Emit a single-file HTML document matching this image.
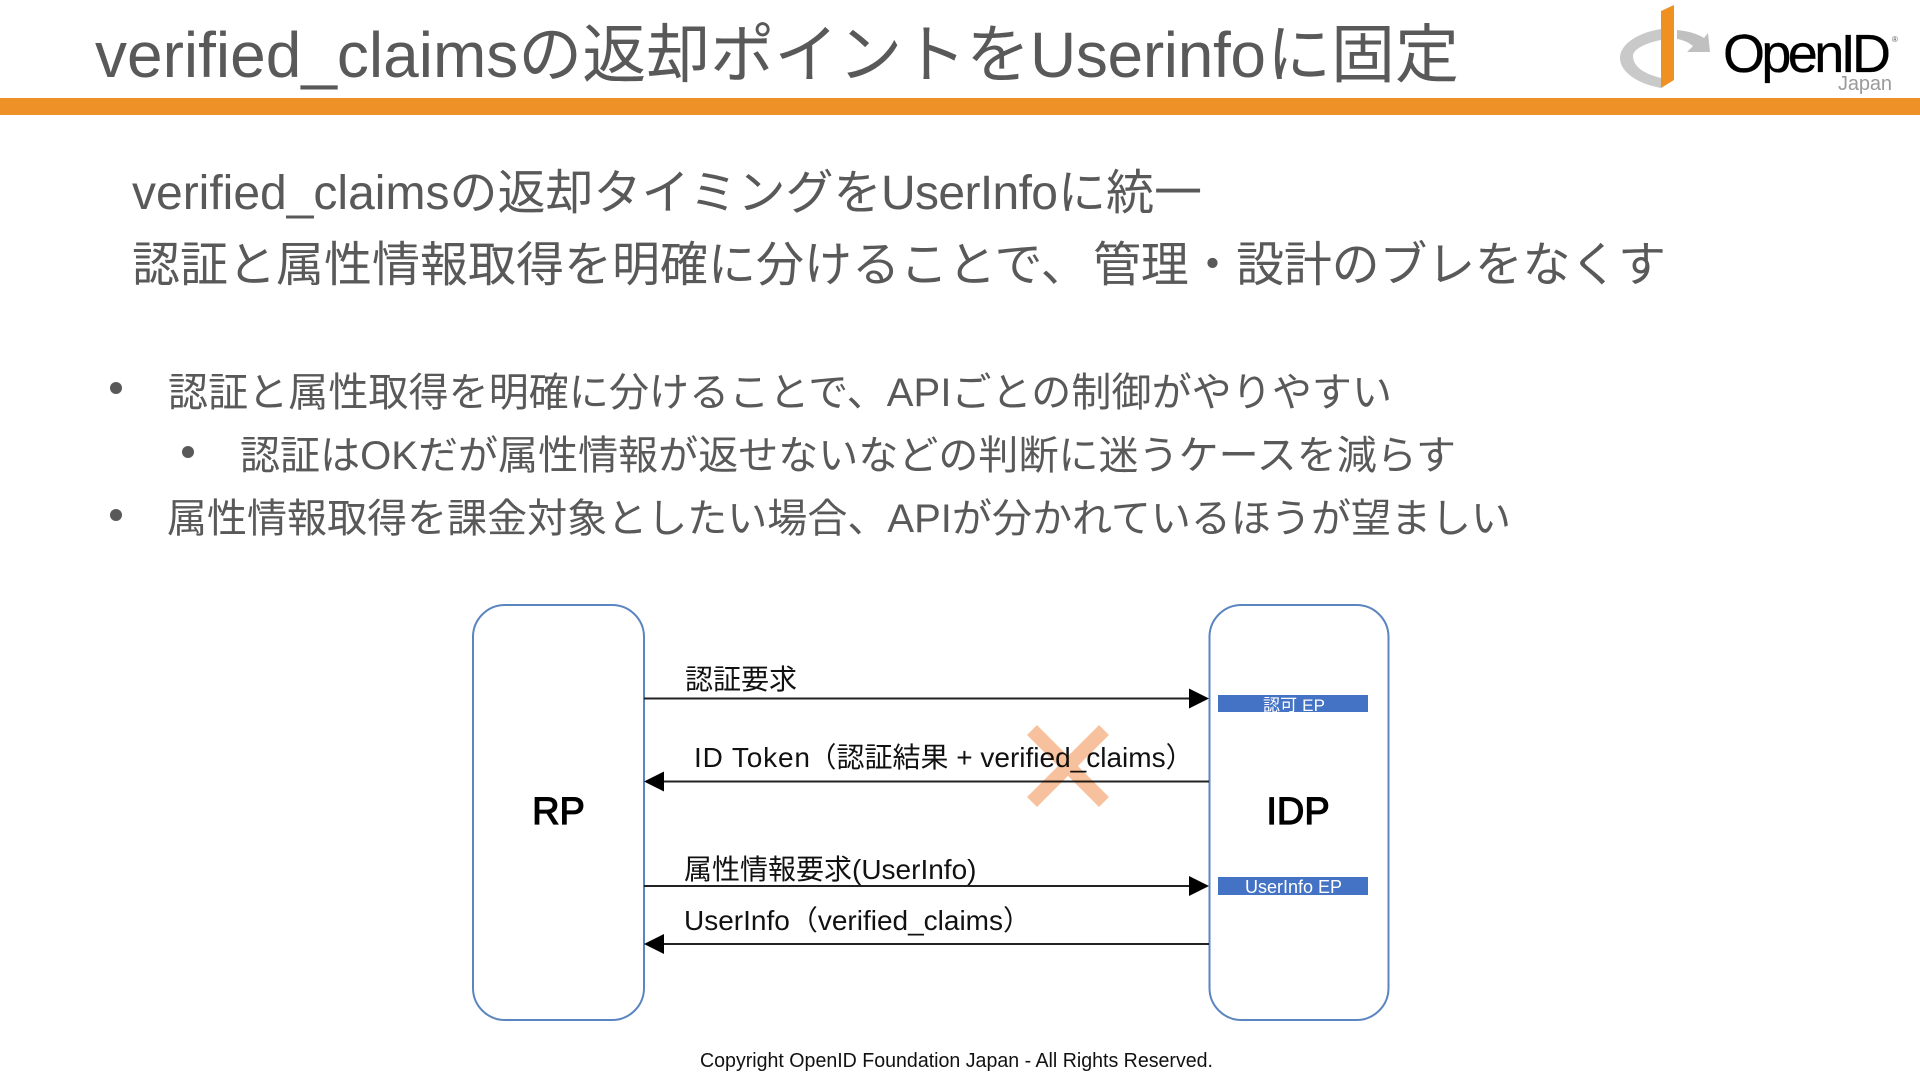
<!DOCTYPE html>
<html lang="ja">
<head>
<meta charset="utf-8">
<title>verified_claims</title>
<style>
html,body{margin:0;padding:0;background:#fff;width:1920px;height:1080px;overflow:hidden}
svg{display:block}
text{font-family:"Liberation Sans","Noto Sans CJK JP",sans-serif}
.g{fill:#595959}
.d{fill:#111;font-size:28px}
</style>
</head>
<body>
<svg width="1920" height="1080" viewBox="0 0 1920 1080" xmlns="http://www.w3.org/2000/svg">
<rect width="1920" height="1080" fill="#fff"/>

<!-- header -->
<text class="g" x="95" y="77" font-size="64">verified_claimsの返却ポイントを</text>
<text class="g" x="1030" y="77" font-size="64" textLength="236" lengthAdjust="spacing">Userinfo</text>
<text class="g" x="1267" y="77" font-size="64">に固定</text>
<rect x="0" y="98" width="1920" height="17" fill="#ee9127"/>

<!-- logo -->
<path d="M1661 29C1636 33 1620 45 1620 58C1620 72 1638 84 1661 88L1661 78C1645 74 1633 67 1633 56C1633 49 1646 43 1661 40Z" fill="#c9c9c9"/>
<path d="M1677 30C1688 31 1698 34 1704 38L1708 33L1710 52L1687 52L1693 46C1688 42 1683 40 1677 39Z" fill="#c0c0c0"/>
<polygon points="1661,11 1674,5 1674,80 1661,88" fill="#ee9120"/>
<text x="1723" y="72" font-size="54" fill="#000" stroke="#000" stroke-width="0.3" textLength="168" lengthAdjust="spacing">OpenID</text>
<text x="1892" y="42" font-size="8" fill="#555">®</text>
<text x="1838" y="90" font-size="20" fill="#9a9a9a" textLength="54" lengthAdjust="spacing">Japan</text>

<!-- lead -->
<text class="g" x="132" y="209" font-size="48">verified_claimsの返却タイミングを</text>
<text class="g" x="881" y="209" font-size="48" textLength="177" lengthAdjust="spacing">UserInfo</text>
<text class="g" x="1058" y="209" font-size="48">に統一</text>
<text class="g" x="132" y="281" font-size="48">認証と属性情報取得を明確に分けることで、</text>
<text class="g" x="1093" y="281" font-size="48" textLength="573" lengthAdjust="spacing">管理・設計のブレをなくす</text>

<!-- bullets -->
<circle class="g" cx="116" cy="388" r="6"/>
<text class="g" x="168" y="406" font-size="40" textLength="1224" lengthAdjust="spacing">認証と属性取得を明確に分けることで、APIごとの制御がやりやすい</text>
<circle class="g" cx="188" cy="452" r="6"/>
<text class="g" x="240" y="469" font-size="40" textLength="1216" lengthAdjust="spacing">認証はOKだが属性情報が返せないなどの判断に迷うケースを減らす</text>
<circle class="g" cx="116" cy="515" r="6"/>
<text class="g" x="167" y="532" font-size="40" textLength="1344" lengthAdjust="spacing">属性情報取得を課金対象としたい場合、APIが分かれているほうが望ましい</text>

<!-- boxes -->
<rect x="473" y="605" width="171" height="415" rx="32" ry="32" fill="#fff" stroke="#5b85c0" stroke-width="2"/>
<rect x="1209.500" y="605" width="179" height="415" rx="32" ry="32" fill="#fff" stroke="#5b85c0" stroke-width="2"/>
<text x="558.500" y="824" font-size="38" text-anchor="middle" fill="#000" stroke="#000" stroke-width="1.2">RP</text>
<text x="1298" y="824" font-size="38" text-anchor="middle" fill="#000" stroke="#000" stroke-width="1.2">IDP</text>

<!-- endpoints -->
<rect x="1218" y="695" width="150" height="17" fill="#4472c4"/>
<rect x="1218" y="877" width="150" height="18" fill="#4472c4"/>
<text x="1263" y="711" font-size="17" fill="#fff" textLength="62" lengthAdjust="spacing">認可 EP</text>
<text x="1245" y="893" font-size="18" fill="#fff" textLength="97" lengthAdjust="spacing">UserInfo EP</text>

<!-- connectors -->
<g stroke="#222" stroke-width="2" fill="none">
<line x1="644" y1="698.500" x2="1192" y2="698.500"/>
<line x1="660" y1="781.500" x2="1209" y2="781.500"/>
<line x1="644" y1="886" x2="1192" y2="886"/>
<line x1="660" y1="944" x2="1209" y2="944"/>
</g>
<polygon points="1209,698.500 1189,688.500 1189,708.500" fill="#000"/>
<polygon points="644,781.500 664,771.500 664,791.500" fill="#000"/>
<polygon points="1209,886 1189,876 1189,896" fill="#000"/>
<polygon points="644,944 664,934 664,954" fill="#000"/>

<!-- labels -->
<text class="d" x="685" y="689">認証要求</text>
<text class="d" x="694" y="767" textLength="116" lengthAdjust="spacing">ID Token</text>
<text class="d" x="808.500" y="767">（認証結果 + verified_claims）</text>
<text class="d" x="684" y="879">属性情報要求(UserInfo)</text>
<text class="d" x="684" y="930">UserInfo（verified_claims）</text>

<!-- cross -->
<g stroke="#f4b183" stroke-width="14" style="mix-blend-mode:multiply" opacity="0.8">
<line x1="1032" y1="730" x2="1104" y2="802"/>
<line x1="1104" y1="730" x2="1032" y2="802"/>
</g>

<!-- footer -->
<text x="700" y="1067" font-size="20" fill="#111" textLength="513" lengthAdjust="spacingAndGlyphs">Copyright OpenID Foundation Japan - All Rights Reserved.</text>
</svg>
</body>
</html>
